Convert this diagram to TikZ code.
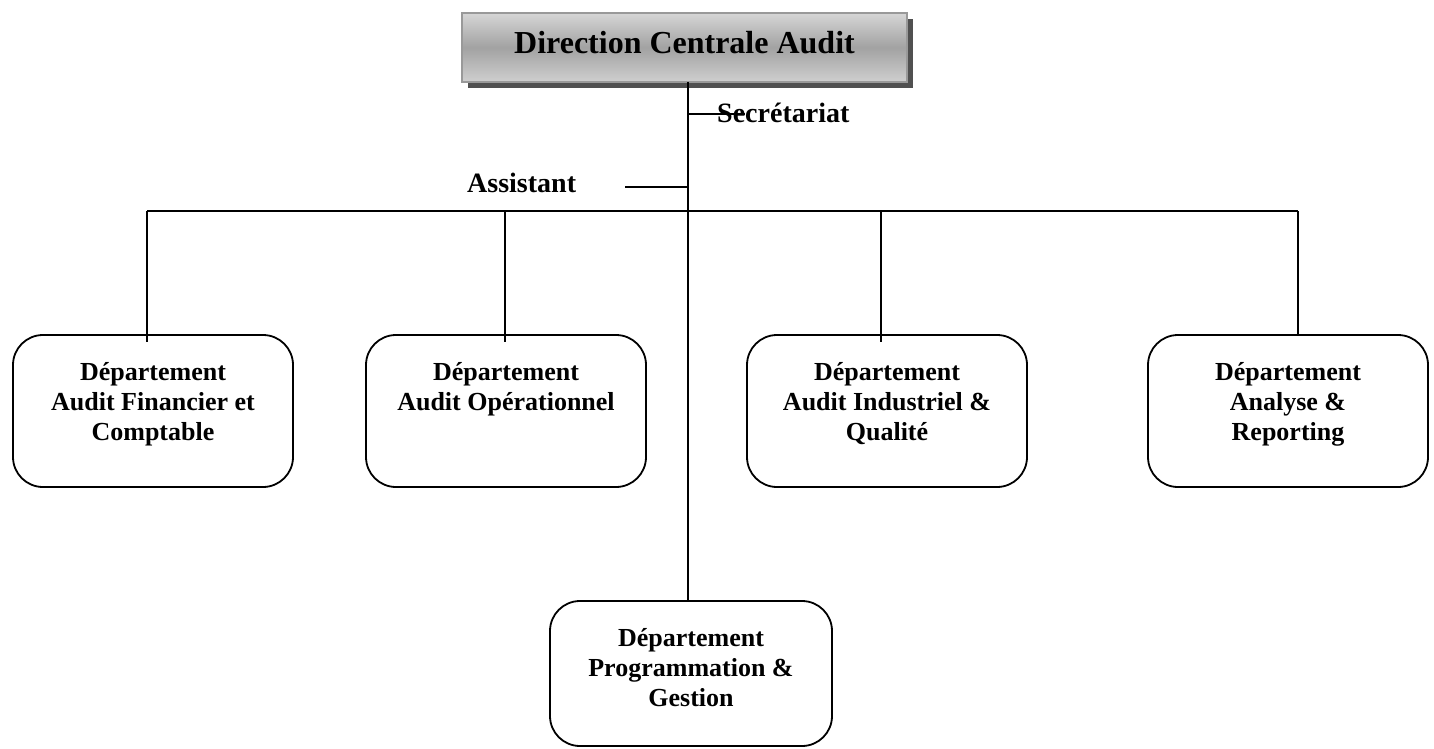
\documentclass[tikz,border=0pt]{standalone}
\usepackage{fontspec}
\setmainfont{Liberation Serif}
\usetikzlibrary{shadows}
\definecolor{headborder}{HTML}{999999}
\definecolor{headtop}{HTML}{D6D6D6}
\definecolor{headmid}{HTML}{A2A2A2}
\definecolor{headbot}{HTML}{CFCFCF}
\definecolor{headshadow}{HTML}{505050}
\begin{document}
\begin{tikzpicture}[x=1pt,y=-1pt,
  conn/.style={line width=1.8pt, black},
  head/.style={draw=headborder, line width=1.8pt, top color=headtop, bottom color=headbot,
    middle color=headmid, minimum width=445pt, minimum height=69pt, inner sep=0pt,
    text depth=10pt, font=\fontsize{32}{36}\selectfont\bfseries,
    general shadow={shadow xshift=6pt, shadow yshift=-6pt, fill=headshadow}},
  deptbox/.style={draw, line width=1.8pt, rounded corners=30pt, minimum width=280pt,
    minimum height=152pt, inner sep=0pt},
  depttext/.style={font=\fontsize{26}{30}\selectfont\bfseries, align=center,
    anchor=north, inner sep=0pt},
  side/.style={font=\fontsize{28}{32}\selectfont\bfseries, inner sep=0pt, anchor=base west}]
\useasboundingbox (0,0) rectangle (1434,749);

% head of the organisation
\node[head] (dca) at (684.5,47.5) {Direction Centrale Audit};

% departments
\node[deptbox] (d1) at (153,411) {};
\node[deptbox] (d2) at (506,411) {};
\node[deptbox] (d3) at (887,411) {};
\node[deptbox] (d4) at (1288,411) {};
\node[deptbox, minimum height=145pt, minimum width=282pt] (d5) at (691,673.5) {};

\node[depttext] (t1) at ([yshift=-28pt]d1.north) {Département\\Audit Financier et\\Comptable};
\node[depttext] (t2) at ([yshift=-28pt]d2.north) {Département\\Audit Opérationnel};
\node[depttext] (t3) at ([yshift=-28pt]d3.north) {Département\\Audit Industriel \&\\Qualité};
\node[depttext] (t4) at ([yshift=-28pt]d4.north) {Département\\Analyse \&\\Reporting};
\node[depttext] (t5) at ([yshift=-28pt]d5.north) {Département\\Programmation \&\\Gestion};

% staff positions
\node[side] (sec) at (717,122) {Secrétariat};
\node[side] (ast) at (467,192) {Assistant};

% junction points
\coordinate (trunktop) at (688,82);
\coordinate (secj) at (688,114);
\coordinate (secend) at (745,114);
\coordinate (astj) at (688,187);
\coordinate (astend) at (625,187);
\coordinate (busl) at (147,211);
\coordinate (busr) at (1298,211);

% trunk
\draw[conn] (trunktop) -- (d5.north -| trunktop);
% staff links
\draw[conn] (secj) -- (secend);
\draw[conn] (astend) -- (astj);
% department bus and drops
\draw[conn] (busl) -- (busr);
\draw[conn] (busl) -- ([yshift=-8pt]d1.north -| busl);
\draw[conn] (505,211) -- ([yshift=-8pt]d2.north -| 505,0);
\draw[conn] (881,211) -- ([yshift=-8pt]d3.north -| 881,0);
\draw[conn] (busr) -- (d4.north -| busr);
\end{tikzpicture}
\end{document}
